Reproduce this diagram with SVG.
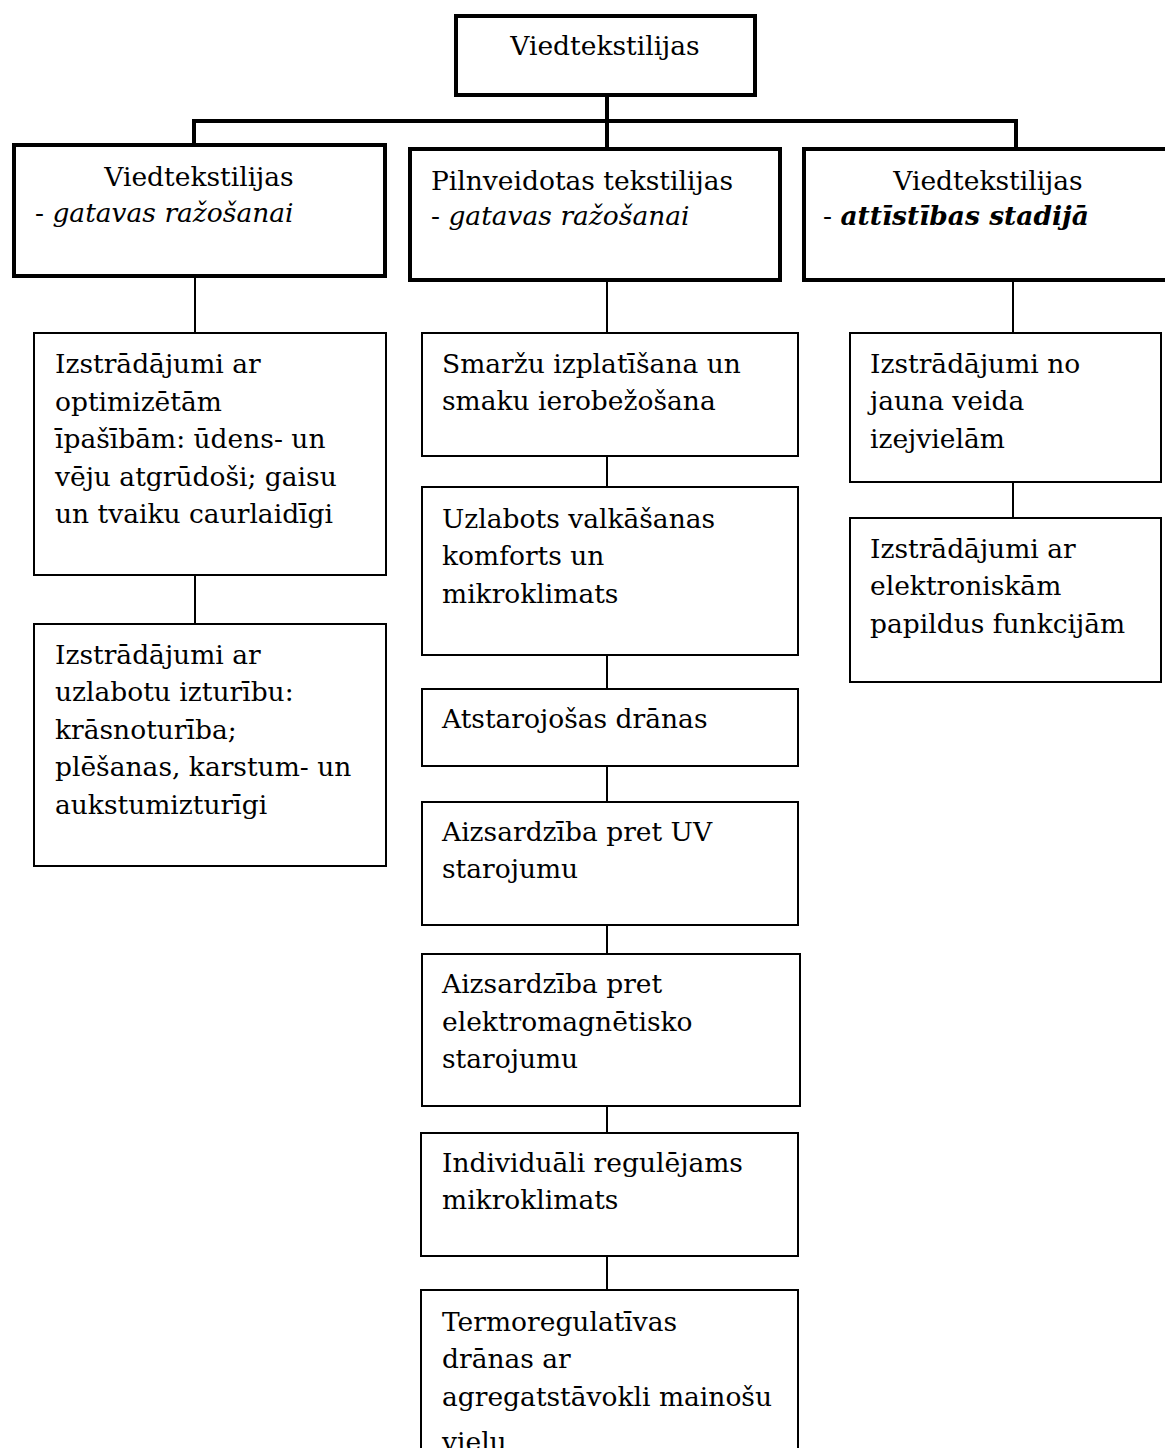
<svg xmlns="http://www.w3.org/2000/svg" width="1165" height="1448" viewBox="0 0 1165 1448">
<style>
  .bg { fill: #ffffff; }
  .thick { fill: #ffffff; stroke: #000000; stroke-width: 4; }
  .thin { fill: #ffffff; stroke: #000000; stroke-width: 2; }
  .cThick { stroke: #000000; stroke-width: 4; fill: none; }
  .cThin { stroke: #000000; stroke-width: 2; fill: none; }
  text { font-family: "DejaVu Serif", "Liberation Serif", serif; font-size: 26.5px; fill: #000000; }
  .it { font-style: italic; }
  .bi { font-style: italic; font-weight: bold; }
</style>
<rect class="bg" x="0" y="0" width="1165" height="1448"/>

<g id="connectors">
  <path class="cThick" d="M607 97 V147"/>
  <path class="cThick" d="M194 145 V121 H1016 V149"/>
  <path class="cThin" d="M195 278 V333"/>
  <path class="cThin" d="M195 576 V623"/>
  <path class="cThin" d="M607 282 V333"/>
  <path class="cThin" d="M607 457 V486"/>
  <path class="cThin" d="M607 656 V688"/>
  <path class="cThin" d="M607 767 V801"/>
  <path class="cThin" d="M607 926 V953"/>
  <path class="cThin" d="M607 1107 V1132"/>
  <path class="cThin" d="M607 1257 V1289"/>
  <path class="cThin" d="M1013 282 V333"/>
  <path class="cThin" d="M1013 483 V517"/>
</g>

<g id="root">
  <rect class="thick" x="456" y="16" width="299" height="79"/>
  <text x="605" y="55" text-anchor="middle">Viedtekstilijas</text>
</g>

<g id="cat-left">
  <rect class="thick" x="14" y="145" width="371" height="131"/>
  <text x="199" y="186" text-anchor="middle">Viedtekstilijas</text>
  <text x="35" y="222">- <tspan class="it">gatavas ražošanai</tspan></text>
</g>

<g id="cat-middle">
  <rect class="thick" x="410" y="149" width="370" height="131"/>
  <text x="431" y="190">Pilnveidotas tekstilijas</text>
  <text x="431" y="225">- <tspan class="it">gatavas ražošanai</tspan></text>
</g>

<g id="cat-right">
  <rect class="thick" x="804" y="149" width="372" height="131"/>
  <text x="988" y="190" text-anchor="middle">Viedtekstilijas</text>
  <text x="823" y="225">- <tspan class="bi">attīstības stadijā</tspan></text>
</g>

<g id="left-1">
  <rect class="thin" x="34" y="333" width="352" height="242"/>
  <text x="55" y="373">Izstrādājumi ar</text>
  <text x="55" y="411">optimizētām</text>
  <text x="55" y="448">īpašībām: ūdens- un</text>
  <text x="55" y="486">vēju atgrūdoši; gaisu</text>
  <text x="55" y="523">un tvaiku caurlaidīgi</text>
</g>

<g id="left-2">
  <rect class="thin" x="34" y="624" width="352" height="242"/>
  <text x="55" y="664">Izstrādājumi ar</text>
  <text x="55" y="701">uzlabotu izturību:</text>
  <text x="55" y="739">krāsnoturība;</text>
  <text x="55" y="776">plēšanas, karstum- un</text>
  <text x="55" y="814">aukstumizturīgi</text>
</g>

<g id="mid-1">
  <rect class="thin" x="422" y="333" width="376" height="123"/>
  <text x="442" y="373">Smaržu izplatīšana un</text>
  <text x="442" y="410">smaku ierobežošana</text>
</g>

<g id="mid-2">
  <rect class="thin" x="422" y="487" width="376" height="168"/>
  <text x="442" y="528">Uzlabots valkāšanas</text>
  <text x="442" y="565">komforts un</text>
  <text x="442" y="603">mikroklimats</text>
</g>

<g id="mid-3">
  <rect class="thin" x="422" y="689" width="376" height="77"/>
  <text x="442" y="728">Atstarojošas drānas</text>
</g>

<g id="mid-4">
  <rect class="thin" x="422" y="802" width="376" height="123"/>
  <text x="442" y="841">Aizsardzība pret UV</text>
  <text x="442" y="878">starojumu</text>
</g>

<g id="mid-5">
  <rect class="thin" x="422" y="954" width="378" height="152"/>
  <text x="442" y="993">Aizsardzība pret</text>
  <text x="442" y="1031">elektromagnētisko</text>
  <text x="442" y="1068">starojumu</text>
</g>

<g id="mid-6">
  <rect class="thin" x="421" y="1133" width="377" height="123"/>
  <text x="442" y="1172">Individuāli regulējams</text>
  <text x="442" y="1209">mikroklimats</text>
</g>

<g id="mid-7">
  <rect class="thin" x="421" y="1290" width="377" height="200"/>
  <text x="442" y="1331">Termoregulatīvas</text>
  <text x="442" y="1368">drānas ar</text>
  <text x="442" y="1406">agregatstāvokli mainošu</text>
  <text x="442" y="1451">vielu</text>
</g>

<g id="right-1">
  <rect class="thin" x="850" y="333" width="311" height="149"/>
  <text x="870" y="373">Izstrādājumi no</text>
  <text x="870" y="410">jauna veida</text>
  <text x="870" y="448">izejvielām</text>
</g>

<g id="right-2">
  <rect class="thin" x="850" y="518" width="311" height="164"/>
  <text x="870" y="558">Izstrādājumi ar</text>
  <text x="870" y="595">elektroniskām</text>
  <text x="870" y="633">papildus funkcijām</text>
</g>
</svg>
